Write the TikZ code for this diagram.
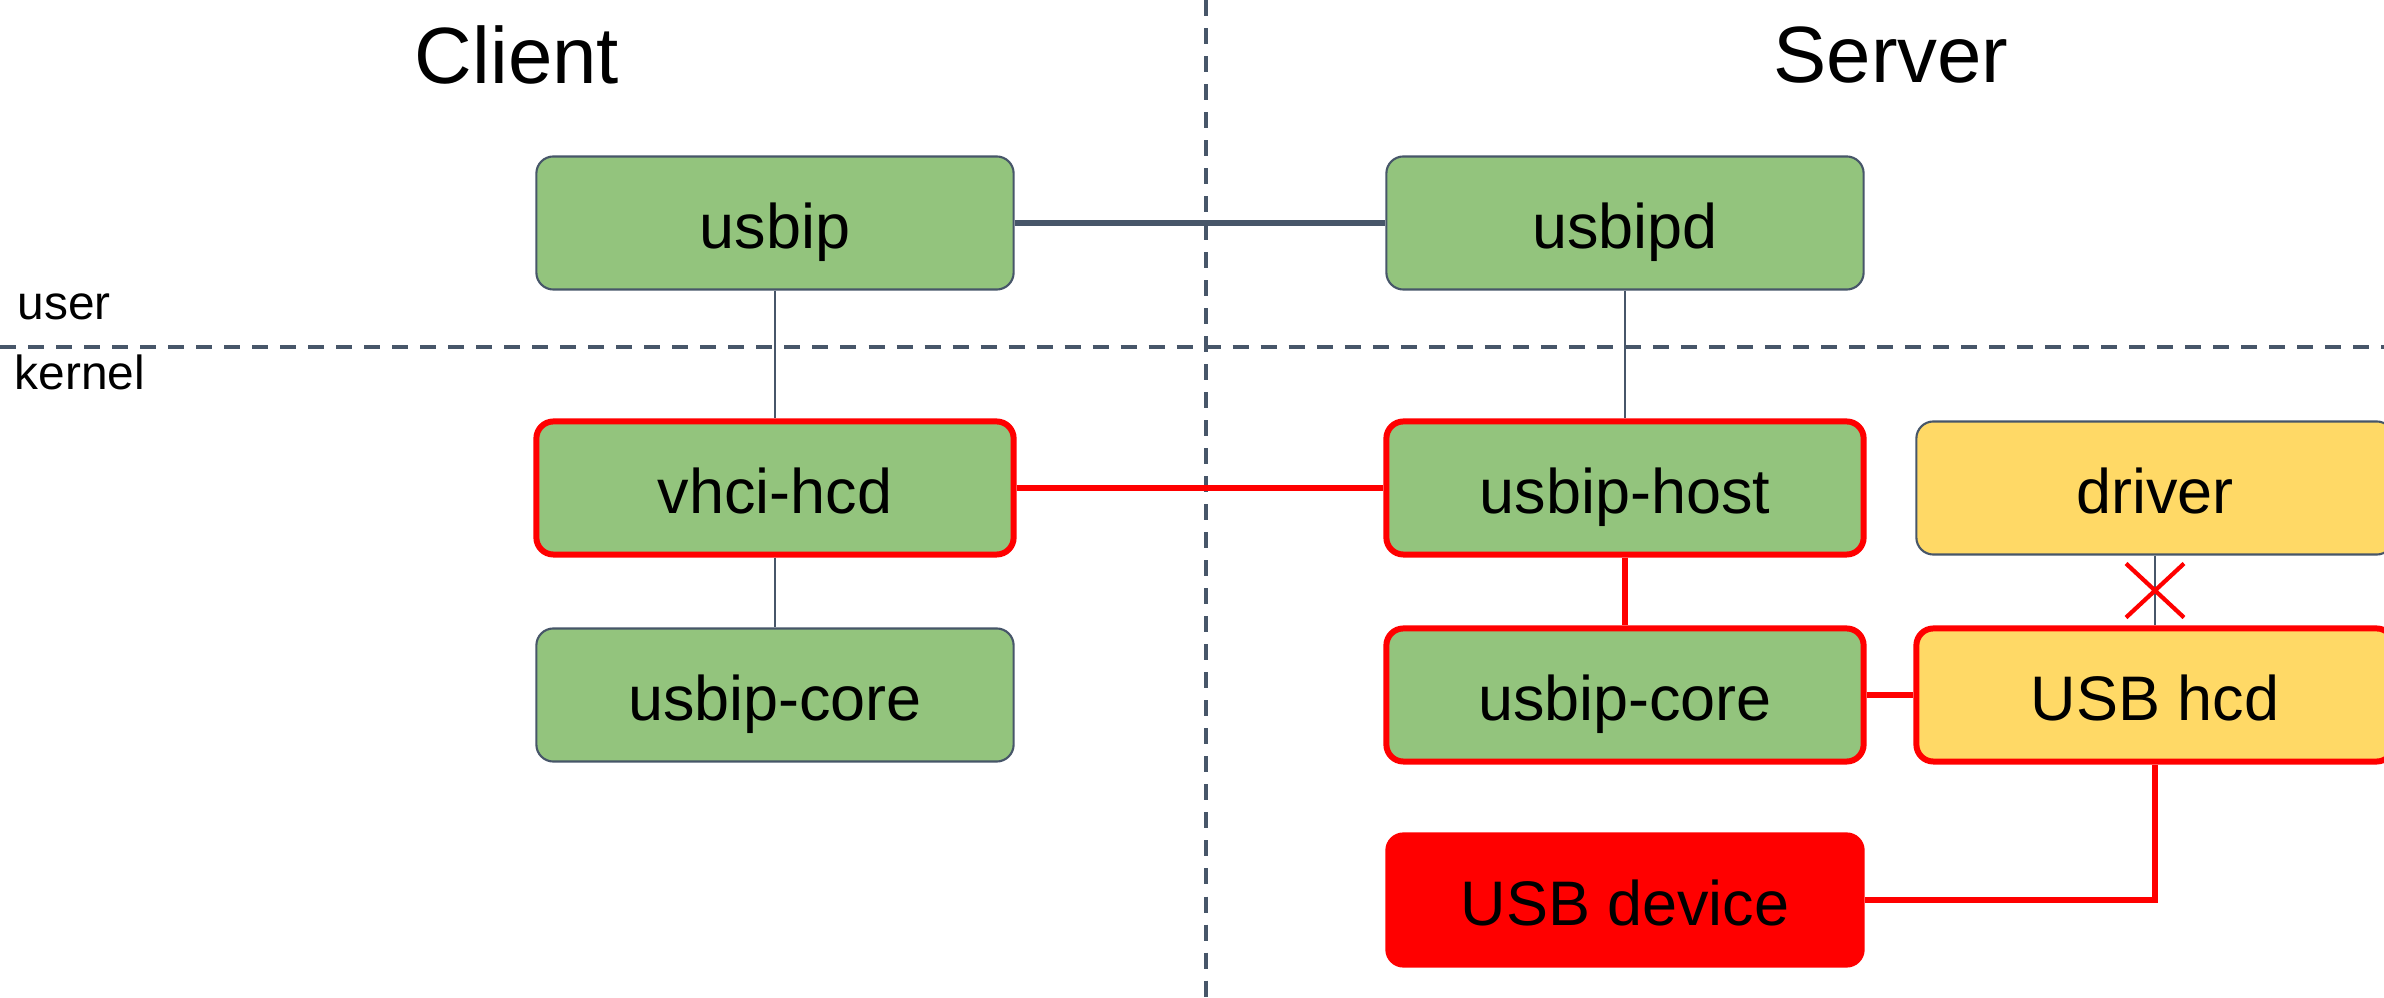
\documentclass[tikz,border=0pt]{standalone}
\usepackage{fontspec}
\setmainfont{Liberation Sans}
\usetikzlibrary{calc,positioning}
\definecolor{StackSlate}{HTML}{475669}
\definecolor{StackGreen}{HTML}{93C47D}
\definecolor{StackYellow}{HTML}{FFD966}
\definecolor{StackRed}{HTML}{FF0000}
\tikzset{
  every node/.style={text=black},
  layer/.style={draw=StackSlate, line width=0.6pt, rounded corners=0.17cm,
    minimum width=4.77cm, minimum height=1.33cm, inner sep=0pt,
    text height=0.5cm, text depth=0pt,
    font=\fontsize{17.9pt}{20pt}\selectfont},
  userspace/.style={layer, fill=StackGreen},
  hostside/.style={layer, fill=StackYellow},
  hot/.style={draw=StackRed, line width=1.7pt},
  gadget/.style={layer, draw=StackRed, fill=StackRed},
  divider/.style={draw=StackSlate, line width=1.1pt, dash pattern=on 0.16cm off 0.12cm},
  link/.style={draw=StackSlate, line width=0.45pt},
  wire/.style={draw=StackRed, line width=1.8pt},
  heading/.style={font=\fontsize{22.7pt}{26pt}\selectfont},
  side/.style={font=\fontsize{13.6pt}{16pt}\selectfont, anchor=west, inner sep=0pt},
}
\begin{document}
\begin{tikzpicture}[x=0.01cm,y=-0.01cm]
  \useasboundingbox (0,0) rectangle (2384,998);
  % client / server split and user / kernel split
  \draw[divider] (1206,0) -- (1206,998);
  \draw[divider] (0,347) -- (2384,347);
  \node[heading] (client) at (517,55) {Client};
  \node[heading] (server) at (1891,55) {Server};
  \node[side] (user) at (17,307) {user};
  \node[side] (kernel) at (14,372) {kernel};
  % client stack
  \node[userspace] (usbip) at (775,223) {usbip};
  \node[userspace, hot] (vhci) at (775,488) {vhci-hcd};
  \node[userspace] (coreC) at (775,695) {usbip-core};
  % server stack
  \node[userspace] (usbipd) at (1625,223) {usbipd};
  \node[userspace, hot] (host) at (1625,488) {usbip-host};
  \node[userspace, hot] (coreS) at (1625,695) {usbip-core};
  \node[gadget] (device) at (1625,900) {USB device};
  \node[hostside] (driver) at (2155,488) {driver};
  \node[hostside, hot] (hcd) at (2155,695) {USB hcd};
  % connections
  \draw[StackSlate, line width=1.7pt] (usbip) -- (usbipd);
  \draw[link] (usbip) -- (vhci);
  \draw[link] (vhci) -- (coreC);
  \draw[link] (usbipd) -- (host);
  \draw[link] (driver) -- (hcd);
  \draw[wire] (vhci) -- (host);
  \draw[wire] (host) -- (coreS);
  \draw[wire] (coreS) -- (hcd);
  \draw[wire] (hcd.south) |- (device.east);
  % the driver is cut off from the hcd
  \coordinate (cut) at ($(driver.south)!0.5!(hcd.north)$);
  \draw[StackRed, line width=1.2pt]
    ($(cut)+(-29,-27)$) -- ($(cut)+(29,27)$)
    ($(cut)+(-29,27)$) -- ($(cut)+(29,-27)$);
\end{tikzpicture}
\end{document}
